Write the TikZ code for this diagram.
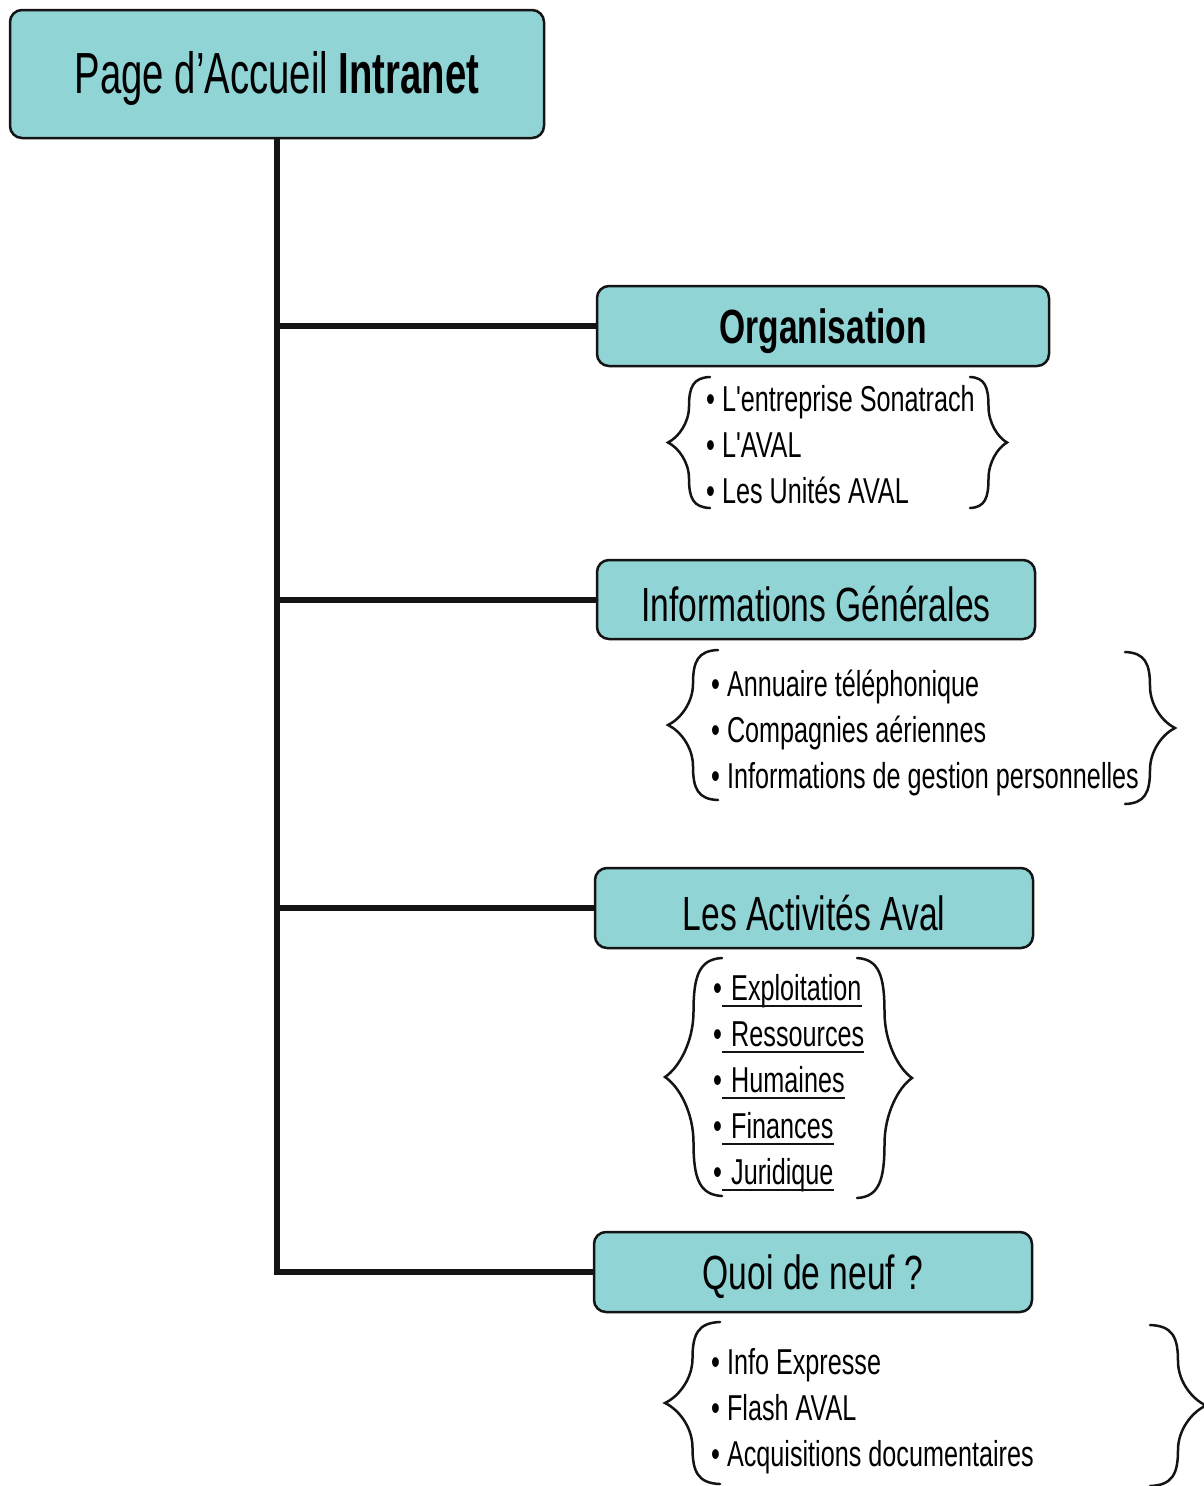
\documentclass[tikz,border=0pt]{standalone}
\usepackage{fontspec}
\setmainfont{Liberation Sans}
\newfontfamily\itemfont[FakeStretch=0.70,Ligatures=TeXOff]{Liberation Sans}
\newfontfamily\headfont[FakeStretch=0.70]{Liberation Sans}
\newfontfamily\topfont[FakeStretch=0.66]{Liberation Sans}
\definecolor{boxfill}{HTML}{90D4D6}
\definecolor{inkline}{HTML}{141414}

% box title, set a little below the geometric centre
\newcommand\boxtitle[1]{\raisebox{-5pt}[\height][\depth]{#1}}

% curly brace: #1 tip x, #2 end x, #3 top y, #4 bottom y
\newcommand\curlybrace[4]{%
  \pgfmathsetmacro\bw{#2-#1}%
  \pgfmathsetmacro\bm{(#1+#2)/2}%
  \pgfmathsetmacro\bh{(#4-#3)/2}%
  \pgfmathsetmacro\by{(#3+#4)/2}%
  \draw[brace] (#2,#3)
    .. controls ({\bm+0.1*\bw},{#3+0.01*\bh}) and (\bm,{#3+0.15*\bh}) .. (\bm,{#3+0.45*\bh})
    .. controls (\bm,{\by-0.3*\bh}) and ({#1+0.25*\bw},{\by-0.08*\bh}) .. (#1,\by)
    .. controls ({#1+0.25*\bw},{\by+0.08*\bh}) and (\bm,{\by+0.3*\bh}) .. (\bm,{#4-0.45*\bh})
    .. controls (\bm,{#4-0.15*\bh}) and ({\bm+0.1*\bw},{#4-0.01*\bh}) .. (#2,#4);%
}

\tikzset{
  box/.style={draw=inkline, line width=2.5pt, fill=boxfill,
    rounded corners=12pt, inner sep=0pt, align=center},
  trunk/.style={draw=inkline, line width=6pt},
  brace/.style={draw=inkline, line width=2.5pt, line cap=round},
  entry/.style={anchor=base west, inner sep=0pt,
    font=\itemfont\fontsize{36}{40}\selectfont},
  head/.style={font=\headfont\fontsize{48}{52}\selectfont},
  uline/.style={draw=inkline, line width=2pt},
}

\begin{document}
\begin{tikzpicture}[x=1pt,y=-1pt]
\useasboundingbox[fill=white] (0,0) rectangle (1204,1486);

% main boxes
\node[box, minimum width=534pt, minimum height=128pt,
      font=\topfont\fontsize{58}{62}\selectfont] (home) at (277,74)
      {\boxtitle{Page d’Accueil \textbf{Intranet}}};
\node[box, head, minimum width=452pt, minimum height=80pt] (org) at (823,326)
      {\boxtitle{\textbf{Organisation}}};
\node[box, head, minimum width=438pt, minimum height=79pt] (info) at (816,599.5)
      {\boxtitle{Informations Générales}};
\node[box, head, minimum width=438pt, minimum height=80pt] (act) at (814,908)
      {\boxtitle{Les Activités Aval}};
\node[box, head, minimum width=438pt, minimum height=80pt] (news) at (813,1272)
      {\boxtitle{Quoi de neuf ?}};

% tree connectors
\draw[trunk] (home.south) |- (news.west);
\draw[trunk] (org.west -| home.south) -- (org.west);
\draw[trunk] (info.west -| home.south) -- (info.west);
\draw[trunk] (act.west -| home.south) -- (act.west);

% Organisation entries
\node[entry] (o1) at (706,411) {• L'entreprise Sonatrach};
\node[entry] (o2) at (706,457) {• L'AVAL};
\node[entry] (o3) at (706,503) {• Les Unités AVAL};
\curlybrace{668}{710}{377}{508}
\curlybrace{1007}{970}{377}{508}

% Informations Générales entries
\node[entry] (i1) at (711,696) {• Annuaire téléphonique};
\node[entry] (i2) at (711,742) {• Compagnies aériennes};
\node[entry] (i3) at (711,788) {• Informations de gestion personnelles};
\curlybrace{668}{718}{650}{800}
\curlybrace{1175}{1125}{652}{804}

% Les Activités Aval entries (underlined)
\foreach \nm/\txt/\yy in {a1/Exploitation/1000, a2/Ressources/1046,
    a3/Humaines/1092, a4/Finances/1138, a5/Juridique/1184}{
  \node[entry] (\nm b) at (713,\yy) {•};
  \node[entry] (\nm) at (731,\yy) {\txt};
  \draw[uline] ([xshift=-9pt,yshift=-6pt]\nm.base west) -- ([yshift=-6pt]\nm.base east);
}
\curlybrace{665}{722}{958}{1196}
\curlybrace{912}{857}{958}{1198}

% Quoi de neuf entries
\node[entry] (n1) at (711,1374) {• Info Expresse};
\node[entry] (n2) at (711,1420) {• Flash AVAL};
\node[entry] (n3) at (711,1466) {• Acquisitions documentaires};
\curlybrace{665}{720}{1322}{1484}
\curlybrace{1206}{1150}{1325}{1486}
\end{tikzpicture}
\end{document}
